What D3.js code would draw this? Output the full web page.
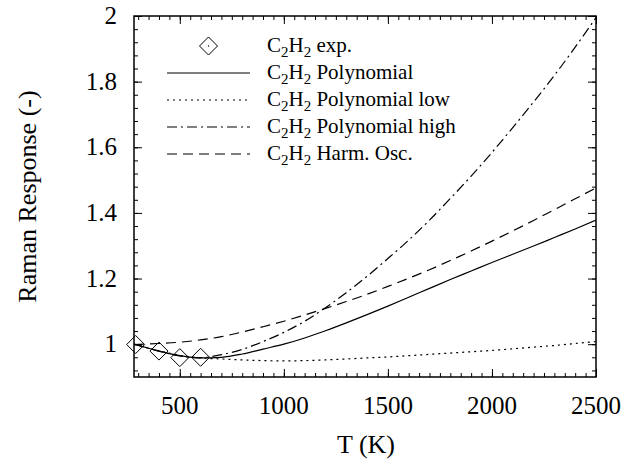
<!DOCTYPE html>
<html><head><meta charset="utf-8">
<script src="https://cdn.jsdelivr.net/npm/d3@7"></script>
<style>
body{margin:0;background:#fff;}
</style></head>
<body><svg id="c" width="629" height="464" font-family="'Liberation Serif', 'DejaVu Serif', Times, serif"></svg>
<script>
// ---- data ----
const expT = [288, 400, 500, 600];
const expV = [0.999, 0.979, 0.959, 0.960];

const temps = [280, 400, 500, 600, 700, 800, 900, 1000, 1100, 1200, 1300, 1400, 1500, 1600, 1700, 1800, 1900, 2000, 2100, 2200, 2300, 2400, 2500];
const polyV = [1.000, 0.979, 0.965, 0.958, 0.960, 0.970, 0.985, 1.000, 1.019, 1.041, 1.065, 1.090, 1.116, 1.143, 1.170, 1.197, 1.223, 1.249, 1.274, 1.299, 1.325, 1.351, 1.378];
const lowV  = [1.000, 0.980, 0.966, 0.958, 0.955, 0.952, 0.950, 0.949, 0.950, 0.952, 0.955, 0.958, 0.961, 0.965, 0.969, 0.973, 0.977, 0.981, 0.986, 0.991, 0.996, 1.002, 1.008];
const highV = [1.000, 0.979, 0.964, 0.959, 0.968, 0.984, 1.008, 1.036, 1.070, 1.111, 1.157, 1.207, 1.261, 1.317, 1.378, 1.444, 1.512, 1.584, 1.660, 1.738, 1.819, 1.905, 1.995];
const harmV = [0.999, 1.002, 1.006, 1.013, 1.023, 1.037, 1.053, 1.070, 1.089, 1.109, 1.130, 1.152, 1.176, 1.201, 1.227, 1.255, 1.284, 1.314, 1.345, 1.377, 1.410, 1.443, 1.476];

const xTicks = [500, 1000, 1500, 2000, 2500];
const yTicks = [1, 1.2, 1.4, 1.6, 1.8, 2];
const yTickLabels = ["1", "1.2", "1.4", "1.6", "1.8", "2"];
const legendNames = ["exp.", "Polynomial", "Polynomial low", "Polynomial high", "Harm. Osc."];

// ---- layout ----
const FONT = "'Liberation Serif', 'DejaVu Serif', Times, serif";
const L = 134, R = 596, T = 16, B = 377;
const svg = d3.select("#c");
const x = d3.scaleLinear().domain([280, 2500]).range([L, R]);
const y = d3.scaleLinear().domain([0.9, 2]).range([B, T]);

const xMinor = d3.range(300, 2501, 50);
const yMinor = d3.range(0.92, 2.001, 0.04);

function tickAxis(axisFn, scale, vals, size, transform) {
  const g = svg.append("g").attr("transform", transform)
    .call(axisFn(scale).tickValues(vals).tickSize(size).tickFormat(""));
  g.select(".domain").remove();
  g.selectAll("line").attr("stroke", "#000").attr("stroke-width", 1);
}
tickAxis(d3.axisBottom, x, xMinor, -4, `translate(0,${B})`);
tickAxis(d3.axisBottom, x, xTicks, -8, `translate(0,${B})`);
tickAxis(d3.axisTop, x, xMinor, -4, `translate(0,${T})`);
tickAxis(d3.axisTop, x, xTicks, -8, `translate(0,${T})`);
tickAxis(d3.axisLeft, y, yMinor, -4, `translate(${L},0)`);
tickAxis(d3.axisLeft, y, yTicks, -8, `translate(${L},0)`);
tickAxis(d3.axisRight, y, yMinor, -4, `translate(${R},0)`);
tickAxis(d3.axisRight, y, yTicks, -8, `translate(${R},0)`);

// tick labels
svg.append("g").selectAll("text").data(xTicks).join("text")
  .attr("font-family", FONT)
  .attr("x", d => x(d)).attr("y", 414).attr("text-anchor", "middle")
  .attr("font-size", 25).text(d => d);
svg.append("g").selectAll("text").data(yTicks).join("text")
  .attr("font-family", FONT)
  .attr("x", 117).attr("y", d => y(d) + 8).attr("text-anchor", "end")
  .attr("font-size", 25).text((d, i) => yTickLabels[i]);

// axis titles
svg.append("text").attr("font-family", FONT).attr("x", 366).attr("y", 453).attr("text-anchor", "middle")
  .attr("font-size", 26).text("T (K)");
svg.append("text").attr("font-family", FONT).attr("transform", `translate(36,${(T + B) / 2}) rotate(-90)`)
  .attr("text-anchor", "middle").attr("font-size", 26).text("Raman Response (-)");

svg.append("clipPath").attr("id", "clip").append("rect")
  .attr("x", L).attr("y", T).attr("width", R - L).attr("height", B - T);

const styles = [
  {v: polyV, dash: null},
  {v: lowV, dash: "2,4"},
  {v: highV, dash: "10,4,2,4"},
  {v: harmV, dash: "10,6"}
];
const line = d3.line().curve(d3.curveMonotoneX);
const lg = svg.append("g").attr("clip-path", "url(#clip)");
styles.forEach(s => {
  lg.append("path")
    .attr("d", line(temps.map((t, i) => [x(t), y(s.v[i])])))
    .attr("fill", "none").attr("stroke", "#000").attr("stroke-width", 1.2)
    .attr("stroke-dasharray", s.dash);
});

const dsz = 9;
const diamond = (cx, cy) => `M${cx},${cy - dsz}L${cx + dsz},${cy}L${cx},${cy + dsz}L${cx - dsz},${cy}Z`;
svg.append("g").selectAll("path").data(expT).join("path")
  .attr("d", (d, i) => diamond(x(d), y(expV[i])))
  .attr("fill", "none").attr("stroke", "#000").attr("stroke-width", 1);

svg.append("rect").attr("x", L).attr("y", T).attr("width", R - L).attr("height", B - T)
  .attr("fill", "none").attr("stroke", "#000").attr("stroke-width", 1.5);

// legend
const legY0 = 52, legDy = 27, sx0 = 167, sx1 = 250, tx = 267;
legendNames.forEach((name, i) => {
  const by = legY0 + i * legDy, cy = by - 6;
  if (i === 0) {
    svg.append("path").attr("d", diamond((sx0 + sx1) / 2, cy)).attr("fill", "none")
      .attr("stroke", "#000").attr("stroke-width", 1);
    svg.append("circle").attr("cx", (sx0 + sx1) / 2).attr("cy", cy).attr("r", 0.7).attr("fill", "#000");
  } else {
    svg.append("line").attr("x1", sx0).attr("x2", sx1).attr("y1", cy).attr("y2", cy)
      .attr("stroke", "#000").attr("stroke-width", 1.2)
      .attr("stroke-dasharray", styles[i - 1].dash);
  }
  const t = svg.append("text").attr("font-family", FONT).attr("x", tx).attr("y", by).attr("font-size", 21);
  t.append("tspan").text("C");
  t.append("tspan").attr("font-size", 15).attr("dy", 5).text("2");
  t.append("tspan").attr("dy", -5).text("H");
  t.append("tspan").attr("font-size", 15).attr("dy", 5).text("2");
  t.append("tspan").attr("dy", -5).text(" " + name);
});
</script></body></html>
